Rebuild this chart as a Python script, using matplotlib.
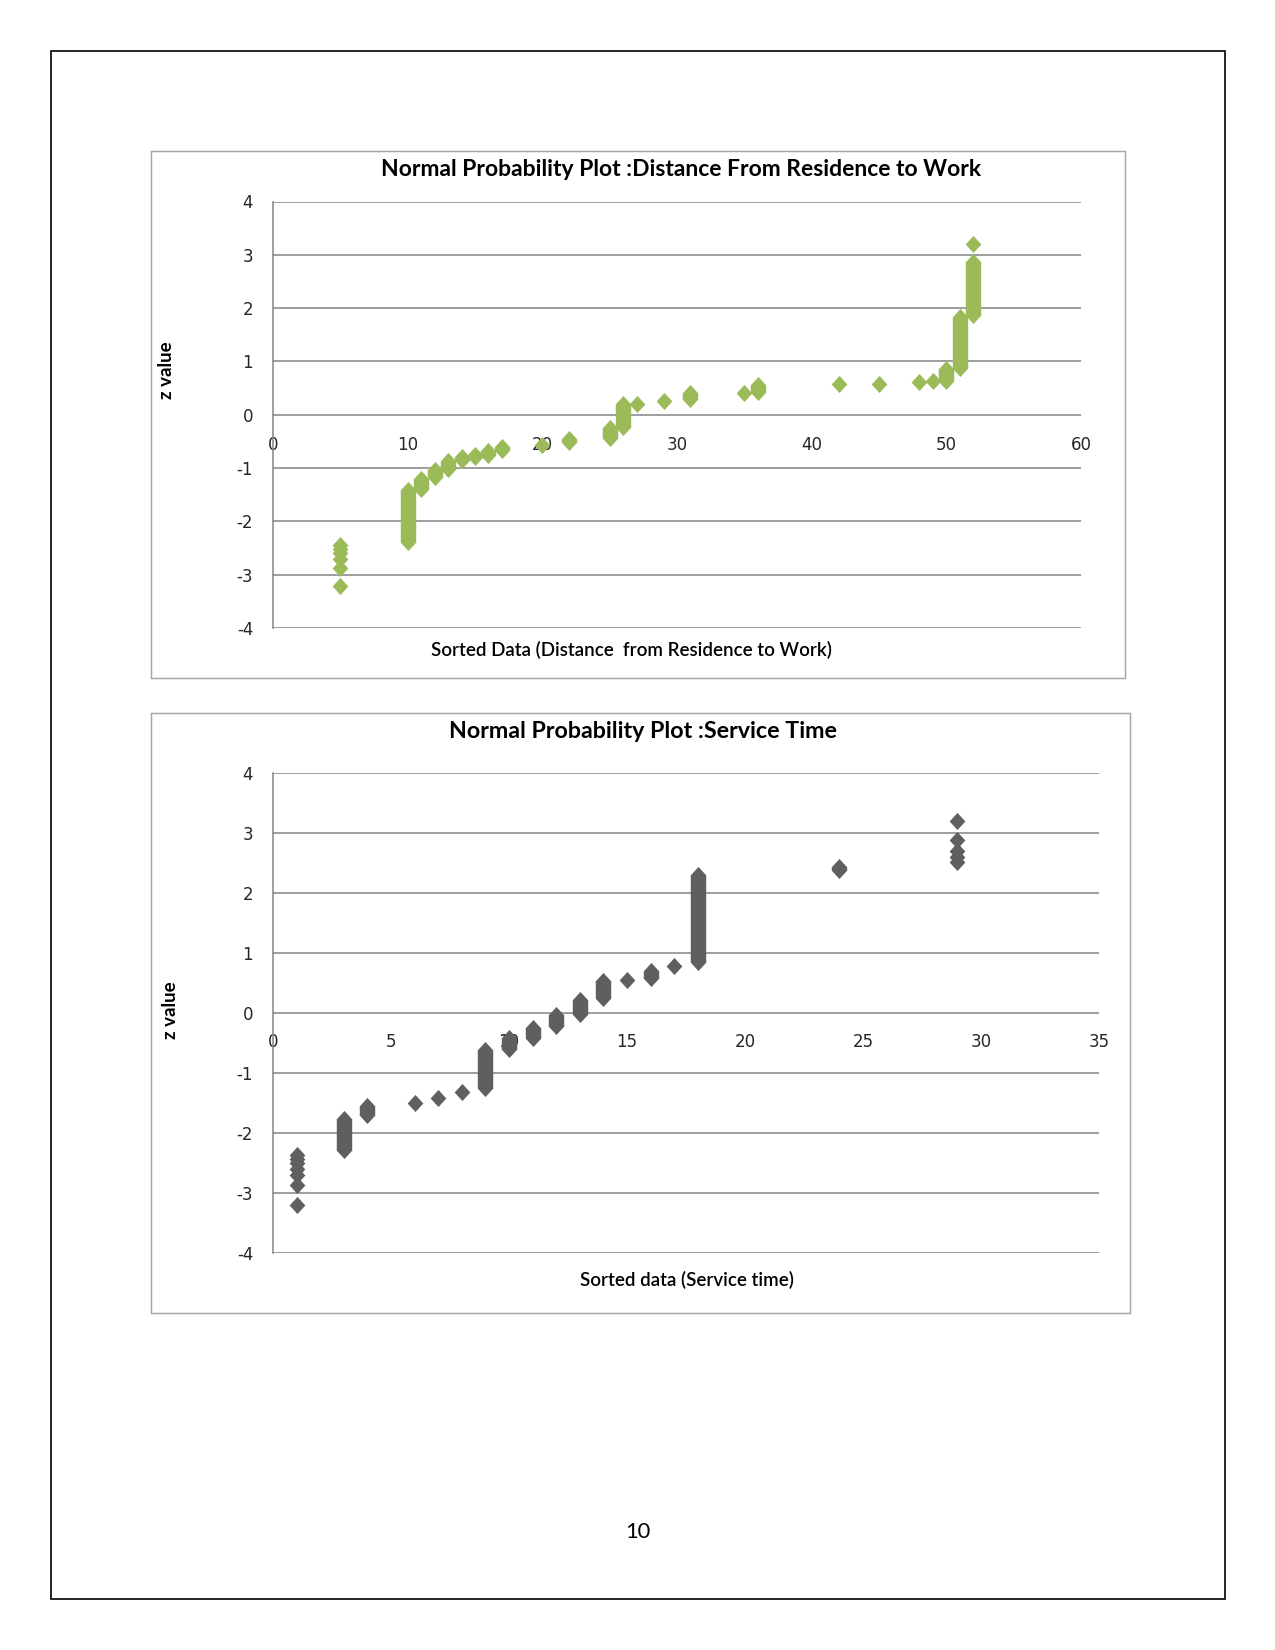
import matplotlib
matplotlib.use("Agg")
import matplotlib.pyplot as plt
from matplotlib.patches import Rectangle
import numpy as np

# ---- data ----
# distance from residence to work: dense runs of diamonds (x, lowest z, highest z)
dist_stack_x = [10, 11, 12, 13, 14, 15, 16, 17, 22, 25, 26, 31, 36, 50, 51, 52]
dist_stack_lo = [-2.38, -1.40, -1.17, -1.01, -0.85, -0.79, -0.75, -0.66, -0.52, -0.43, -0.23, 0.29, 0.43, 0.64, 0.87, 1.87]
dist_stack_hi = [-1.42, -1.21, -1.03, -0.86, -0.80, -0.76, -0.68, -0.60, -0.45, -0.25, 0.20, 0.40, 0.55, 0.85, 1.83, 2.87]
# single diamonds
dist_pt_x = [5, 5, 5, 5, 5, 5, 20, 27, 29, 35, 42, 45, 48, 49, 52]
dist_pt_z = [-3.21, -2.87, -2.71, -2.60, -2.51, -2.44, -0.57, 0.21, 0.26, 0.41, 0.57, 0.58, 0.61, 0.63, 3.20]

# service time
serv_stack_x = [3, 4, 9, 10, 11, 12, 13, 14, 16, 18, 24]
serv_stack_lo = [-2.29, -1.70, -1.26, -0.60, -0.42, -0.23, -0.03, 0.24, 0.57, 0.84, 2.38]
serv_stack_hi = [-1.77, -1.55, -0.63, -0.43, -0.26, -0.04, 0.21, 0.52, 0.69, 2.29, 2.43]
serv_pt_x = [1, 1, 1, 1, 1, 1, 1, 6, 7, 8, 15, 17, 29, 29, 29, 29, 29]
serv_pt_z = [-3.21, -2.88, -2.71, -2.60, -2.51, -2.44, -2.37, -1.50, -1.42, -1.33,
             0.55, 0.77, 2.51, 2.60, 2.70, 2.87, 3.20]

yticks = [-4, -3, -2, -1, 0, 1, 2, 3, 4]

plt.rcParams["axes.unicode_minus"] = False

W, H = 1275, 1650
fig = plt.figure(figsize=(8.5, 11), dpi=150)
fig.patch.set_facecolor("white")

SANS = ["Lato", "DejaVu Sans"]
GRID = "#868686"
diamond = [(0, 1), (0.92, 0), (0, -1), (-0.92, 0), (0, 1)]


def fx(px):
    return px / W


def fy(py):
    return 1 - py / H


def box(x0, y0, x1, y1, color, lw):
    fig.patches.append(Rectangle((fx(x0), fy(y1)), fx(x1) - fx(x0), fy(y0) - fy(y1),
                                 transform=fig.transFigure, fill=False, ec=color, lw=lw))


def setup(ax, xmax, xstep):
    ax.set_xlim(0, xmax)
    ax.set_ylim(-4, 4)
    ax.set_xticks(np.arange(0, xmax + 1, xstep))
    ax.set_yticks(yticks)
    ax.grid(axis="y", color=GRID, lw=0.75)
    ax.grid(axis="x", visible=False)
    ax.set_axisbelow(True)
    ax.spines["top"].set_visible(False)
    ax.spines["right"].set_visible(False)
    ax.spines["bottom"].set_position(("data", 0))
    ax.spines["bottom"].set_color("none")
    ax.spines["left"].set_color(GRID)
    ax.spines["left"].set_linewidth(0.75)
    ax.tick_params(length=0, labelsize=8, colors="#262626")
    ax.tick_params(axis="x", pad=10)
    ax.tick_params(axis="y", pad=9.5)
    ax.set_facecolor("none")


def draw(ax, sx, lo, hi, px, pz, color):
    ax.vlines(sx, lo, hi, colors=color, lw=7.4, capstyle="butt", zorder=3)
    ax.plot(sx + sx, lo + hi, ls="none", marker=diamond, ms=8.2, mew=0, color=color, zorder=3)
    ax.plot(px, pz, ls="none", marker=diamond, ms=8.2, mew=0, color=color, zorder=3)


# page frame and chart frames
box(51, 51, 1225, 1599, "black", 0.8)
box(150.5, 150.5, 1124.5, 677.5, "#a6a6a6", 0.7)
box(150.5, 713.5, 1130, 1313, "#a6a6a6", 0.7)

# chart 1
ax1 = fig.add_axes([fx(273), fy(628), fx(1081) - fx(273), fy(201.5) - fy(628)])
setup(ax1, 60, 10)
draw(ax1, dist_stack_x, dist_stack_lo, dist_stack_hi, dist_pt_x, dist_pt_z, "#9bbb59")

# chart 2
ax2 = fig.add_axes([fx(273), fy(1252.5), fx(1099) - fx(273), fy(772.5) - fy(1252.5)])
setup(ax2, 35, 5)
draw(ax2, serv_stack_x, serv_stack_lo, serv_stack_hi, serv_pt_x, serv_pt_z, "#5f5f5f")

fig.text(fx(681), fy(169), "Normal Probability Plot :Distance From Residence to Work",
         ha="center", va="center", fontsize=11, fontweight="bold", family=SANS)
fig.text(fx(631), fy(650), "Sorted Data (Distance  from Residence to Work)",
         ha="center", va="center", fontsize=9, fontweight="semibold", family=SANS)
fig.text(fx(167), fy(370), "z value", ha="center", va="center", rotation=90,
         fontsize=9, fontweight="bold", family=SANS)

fig.text(fx(643), fy(731), "Normal Probability Plot :Service Time",
         ha="center", va="center", fontsize=11.2, fontweight="bold", family=SANS)
fig.text(fx(687), fy(1280), "Sorted data (Service time)",
         ha="center", va="center", fontsize=9, fontweight="semibold", family=SANS)
fig.text(fx(170), fy(1010), "z value", ha="center", va="center", rotation=90,
         fontsize=9, fontweight="bold", family=SANS)

fig.text(fx(637.5), fy(1532), "10", ha="center", va="center", fontsize=10.5, family=SANS)

fig.savefig("out.png", dpi=150, facecolor="white")
